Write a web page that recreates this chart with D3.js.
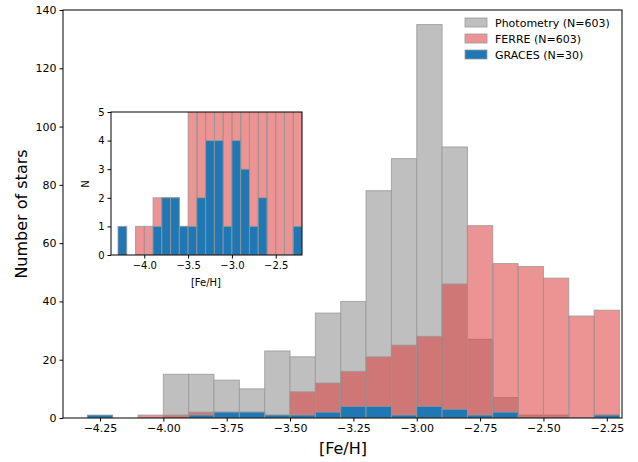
<!DOCTYPE html>
<html><head><meta charset="utf-8">
<script src="https://cdn.jsdelivr.net/npm/d3@7"></script>
<style>body{margin:0;background:#fff}text{font-family:"DejaVu Sans",sans-serif}</style>
</head><body><svg id="c" width="638" height="462"></svg>
<script>
const binWidth = 0.1;
const photoBins = [-4.0,-3.9,-3.8,-3.7,-3.6,-3.5,-3.4,-3.3,-3.2,-3.1,-3.0,-2.9,-2.8,-2.7,-2.6,-2.5,-2.3];
const photoCounts = [15,15,13,10,23,21,36,40,78,89,135,93,27,7,1,1,1];
const ferreBins = [-4.1,-4.0,-3.9,-3.8,-3.7,-3.6,-3.5,-3.4,-3.3,-3.2,-3.1,-3.0,-2.9,-2.8,-2.7,-2.6,-2.5,-2.4,-2.3];
const ferreCounts = [1,1,2,2,2,1,9,12,16,21,25,28,46,66,53,52,48,35,37];
const gracesBins = [-4.3,-3.9,-3.8,-3.7,-3.6,-3.5,-3.4,-3.3,-3.2,-3.1,-3.0,-2.9,-2.8,-2.7,-2.3];
const gracesCounts = [1,1,2,2,1,1,2,4,4,1,4,3,1,2,1];
const mainXTicks = [-4.25,-4.0,-3.75,-3.5,-3.25,-3.0,-2.75,-2.5,-2.25];
const mainYTicks = [0,20,40,60,80,100,120,140];
const insetXTicks = [-4.0,-3.5,-3.0,-2.5];
const insetYTicks = [0,1,2,3,4,5];
const legendLabels = ["Photometry (N=603)","FERRE (N=603)","GRACES (N=30)"];

const svg = d3.select("#c");
const series = [
 {b:photoBins,c:photoCounts,fill:"#bfbfbf",op:1},
 {b:ferreBins,c:ferreCounts,fill:"rgb(220,60,60)",op:0.55},
 {b:gracesBins,c:gracesCounts,fill:"#1f77b4",op:1}
];

function panel(g, x, y, list, xt, yt, fmtX, fs){
  const clipId = "clip"+Math.random().toString(36).slice(2);
  g.append("clipPath").attr("id",clipId).append("rect")
   .attr("x",x.range()[0]).attr("y",y.range()[1])
   .attr("width",x.range()[1]-x.range()[0]).attr("height",y.range()[0]-y.range()[1]);
  const pg = g.append("g").attr("clip-path",`url(#${clipId})`);
  list.forEach(s=>{
    pg.selectAll(null).data(s.b.map((b,i)=>({b,c:s.c[i]}))).join("rect")
      .attr("x",d=>x(d.b)).attr("width",d=>x(d.b+binWidth)-x(d.b))
      .attr("y",d=>y(d.c)).attr("height",d=>y(0)-y(d.c))
      .attr("fill",s.fill).attr("fill-opacity",s.op)
      .attr("stroke","#999").attr("stroke-opacity",0.8).attr("stroke-width",1);
  });
  const ax = g.append("g").attr("transform",`translate(0,${y.range()[0]})`)
    .call(d3.axisBottom(x).tickValues(xt).tickFormat(d=>d3.format(fmtX)(d).replace("-","\u2212")).tickSizeOuter(0).tickSize(3.5));
  const ay = g.append("g").attr("transform",`translate(${x.range()[0]},0)`)
    .call(d3.axisLeft(y).tickValues(yt).tickFormat(d3.format("d")).tickSizeOuter(0).tickSize(3.5));
  [ax,ay].forEach(a=>{a.selectAll("text").attr("font-size",fs).attr("fill","#000");a.select(".domain").remove();});
  g.append("rect").attr("x",x.range()[0]).attr("y",y.range()[1])
   .attr("width",x.range()[1]-x.range()[0]).attr("height",y.range()[0]-y.range()[1])
   .attr("fill","none").attr("stroke","#000").attr("stroke-width",1);
}

const x = d3.scaleLinear().domain([-4.396,-2.19]).range([63,622]);
const y = d3.scaleLinear().domain([0,140]).range([418,10]);
const gm = svg.append("g");
panel(gm,x,y,series,mainXTicks,mainYTicks,".2f",11);
svg.append("text").attr("x",343).attr("y",454).attr("text-anchor","middle").attr("font-size",16).text("[Fe/H]");
svg.append("text").attr("transform","translate(27,214) rotate(-90)").attr("text-anchor","middle").attr("font-size",16).text("Number of stars");

const lg = svg.append("g");
legendLabels.forEach((t,i)=>{
  const s = series[i];
  lg.append("rect").attr("x",465).attr("y",18+i*16).attr("width",22).attr("height",9)
    .attr("fill",s.fill).attr("fill-opacity",s.op).attr("stroke","#999").attr("stroke-opacity",0.8);
  lg.append("text").attr("x",495).attr("y",27+i*16).attr("font-size",11).text(t);
});

const xi = d3.scaleLinear().domain([-4.38,-2.2]).range([111,302]);
const yi = d3.scaleLinear().domain([0,5]).range([255,112]);
const gi = svg.append("g");
gi.append("rect").attr("x",111).attr("y",112).attr("width",191).attr("height",143).attr("fill","#fff");
panel(gi,xi,yi,series.slice(1),insetXTicks,insetYTicks,".1f",10);
svg.append("text").attr("x",206).attr("y",286).attr("text-anchor","middle").attr("font-size",10).text("[Fe/H]");
svg.append("text").attr("transform","translate(89,184) rotate(-90)").attr("text-anchor","middle").attr("font-size",10).text("N");
</script></body></html>
